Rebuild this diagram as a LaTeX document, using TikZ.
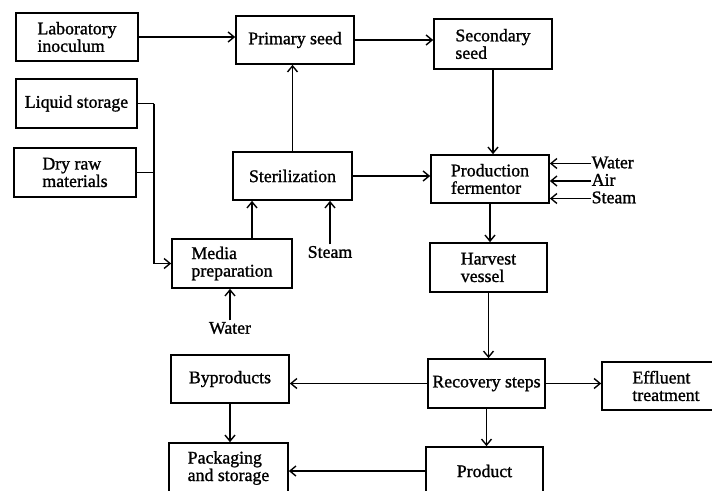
\documentclass[tikz,border=0pt]{standalone}
\usepackage{fontspec}
\setmainfont{Liberation Serif}[UprightFeatures={FakeBold=1.2}]
\usetikzlibrary{arrows.meta}
\begin{document}
\begin{tikzpicture}[x=1pt,y=-1pt,
  box/.style={draw,line width=1.7pt,align=left,inner sep=0pt,
    font=\fontsize{17.8}{17.5}\selectfont},
  lbl/.style={inner sep=1.5pt,font=\fontsize{17.8}{17.5}\selectfont},
  sidelbl/.style={inner sep=0.5pt,text height=11pt,text depth=1.5pt,font=\fontsize{17.8}{17.5}\selectfont},
  arr/.style={line width=1.4pt,-{Straight Barb[length=6pt,width=10pt,line width=1.4pt]}},
  ln/.style={line width=1.4pt}]
\useasboundingbox (0,0) rectangle (712,490);
\clip (0,0) rectangle (712,490);
\fill[white] (0,0) rectangle (712,490);
% boxes
\node[box,minimum width=122,minimum height=48] (lab) at (77,37) {Laboratory\\inoculum};
\node[box,minimum width=118,minimum height=48] (prim) at (295,40) {Primary seed};
\node[box,minimum width=118,minimum height=50] (sec) at (493,44) {Secondary\\seed};
\node[box,minimum width=121,minimum height=49] (liq) at (76.5,103.5) {Liquid storage};
\node[box,minimum width=122,minimum height=49] (dry) at (75,172.5) {Dry raw\\materials};
\node[box,minimum width=119,minimum height=48] (ster) at (292.5,176) {Sterilization};
\node[box,minimum width=118,minimum height=48] (ferm) at (490,179) {Production\\fermentor};
\node[box,minimum width=120,minimum height=49] (media) at (232,263.5) {Media\\preparation};
\node[box,minimum width=117,minimum height=49] (harv) at (488.5,267.5) {Harvest\\vessel};
\node[box,minimum width=118,minimum height=48] (byp) at (230,379) {Byproducts};
\node[box,minimum width=117,minimum height=49] (rec) at (486.5,383.5) {Recovery steps};
\node[box,minimum width=128,minimum height=48] (effl) at (666,386) {Effluent\\treatment};
\node[box,minimum width=119,minimum height=50] (pack) at (228.5,468) {Packaging\\and storage};
\node[box,minimum width=117,minimum height=48] (prod) at (484.5,471) {Product};
% labels
\node[lbl] (steamB) at (330,252) {Steam};
\node[lbl] (waterB) at (230,328) {Water};
\node[sidelbl,anchor=west] (wF) at (591,163.5) {Water};
\node[sidelbl,anchor=west] (aF) at (591,181) {Air};
\node[sidelbl,anchor=west] (sF) at (591,198.5) {Steam};
\coordinate (bus) at (154,0);
% connectors
\draw[arr] (lab.east) -- (lab.east -| prim.west);
\draw[arr] (prim.east) -- (prim.east -| sec.west);
\draw[arr] (sec.south) -- (sec.south |- ferm.north);
\draw[arr] (ster.north) -- (ster.north |- prim.south);
\draw[arr] (ster.east) -- (ster.east -| ferm.west);
\draw[ln] (liq.east) -- (liq.east -| bus);
\draw[ln] (dry.east) -- (dry.east -| bus);
\draw[arr] (liq.east -| bus) -- (bus |- media.west) -- (media.west);
\draw[arr] ([xshift=20pt]media.north) -- ([xshift=20pt]media.north |- ster.south);
\draw[arr] (steamB.north) -- (steamB.north |- ster.south);
\draw[arr] (waterB.north) -- (waterB.north |- media.south);
\draw[arr] (wF.west) -- (wF.west -| ferm.east);
\draw[arr] (aF.west) -- (aF.west -| ferm.east);
\draw[arr] (sF.west) -- (sF.west -| ferm.east);
\draw[arr] (ferm.south) -- (ferm.south |- harv.north);
\draw[arr] (harv.south) -- (harv.south |- rec.north);
\draw[arr] (rec.west) -- (rec.west -| byp.east);
\draw[arr] (rec.east) -- (rec.east -| effl.west);
\draw[arr] (byp.south) -- (byp.south |- pack.north);
\draw[arr] (rec.south) -- (rec.south |- prod.north);
\draw[arr] (prod.west) -- (prod.west -| pack.east);
\end{tikzpicture}
\end{document}
